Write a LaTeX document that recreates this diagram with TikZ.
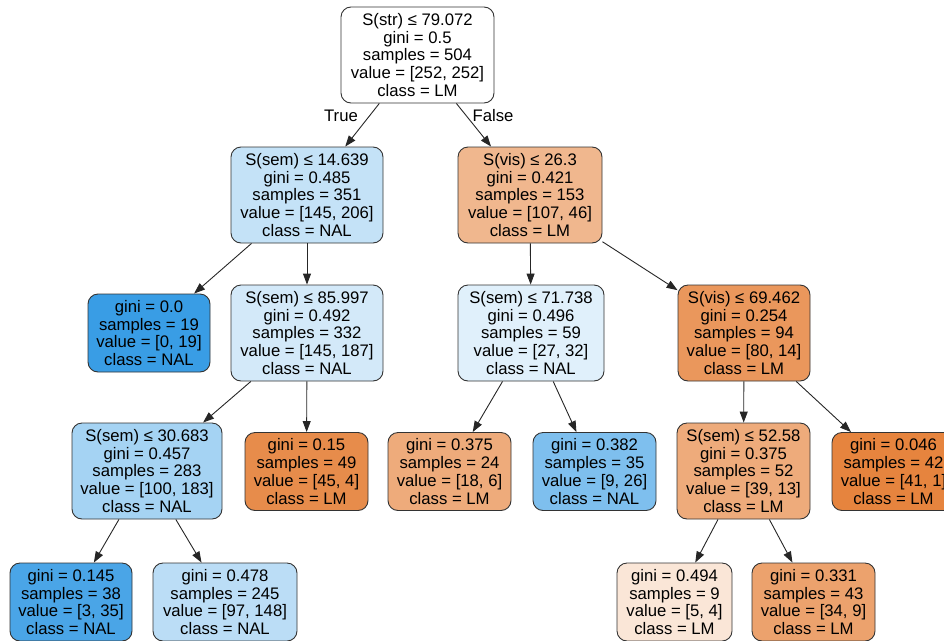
\documentclass[tikz,border=0pt]{standalone}
\usepackage{fontspec}
\setmainfont{Liberation Sans}
\usetikzlibrary{arrows.meta}
\definecolor{cRoot}{RGB}{255,255,255}
\definecolor{cA}{RGB}{196,226,247}
\definecolor{cB}{RGB}{240,183,142}
\definecolor{cL0}{RGB}{57,157,229}
\definecolor{cC}{RGB}{211,233,249}
\definecolor{cD}{RGB}{224,240,251}
\definecolor{cE}{RGB}{234,151,92}
\definecolor{cF}{RGB}{165,211,243}
\definecolor{cL15}{RGB}{231,140,75}
\definecolor{cL375}{RGB}{238,171,123}
\definecolor{cL382}{RGB}{126,191,238}
\definecolor{cG}{RGB}{238,171,123}
\definecolor{cL046}{RGB}{230,132,62}
\definecolor{cL145}{RGB}{74,165,231}
\definecolor{cL478}{RGB}{187,221,246}
\definecolor{cL494}{RGB}{250,230,215}
\definecolor{cL331}{RGB}{236,162,109}
\tikzset{
  tn/.style={draw=black!80, rounded corners=10pt, align=center,
    font=\fontsize{16.7}{17.8}\selectfont, inner sep=0pt, line width=0.9pt},
  intn/.style={tn, minimum height=96pt},
  leafn/.style={tn, minimum height=78pt},
  edge/.style={draw=black!85, line width=0.9pt, -{Triangle[length=11pt,width=8pt]}},
  elab/.style={font=\fontsize{16.7}{17.8}\selectfont, inner sep=0pt}
}
\begin{document}
\begin{tikzpicture}[x=1pt,y=-1pt]
\useasboundingbox (0,0) rectangle (944,640);
\clip (0,0) rectangle (944,640);
\node[intn, fill=cRoot, minimum width=153pt] (root) at (417.5,55) {S(str) ≤ 79.072\\gini = 0.5\\samples = 504\\value = [252, 252]\\class = LM};
\node[intn, fill=cA, minimum width=152pt] (A) at (307,195) {S(sem) ≤ 14.639\\gini = 0.485\\samples = 351\\value = [145, 206]\\class = NAL};
\node[intn, fill=cB, minimum width=144pt] (B) at (530,195) {S(vis) ≤ 26.3\\gini = 0.421\\samples = 153\\value = [107, 46]\\class = LM};
\node[leafn, fill=cL0, minimum width=122pt] (L0) at (149,333) {gini = 0.0\\samples = 19\\value = [0, 19]\\class = NAL};
\node[intn, fill=cC, minimum width=152pt] (C) at (307,333) {S(sem) ≤ 85.997\\gini = 0.492\\samples = 332\\value = [145, 187]\\class = NAL};
\node[intn, fill=cD, minimum width=146pt] (D) at (531,333) {S(sem) ≤ 71.738\\gini = 0.496\\samples = 59\\value = [27, 32]\\class = NAL};
\node[intn, fill=cE, minimum width=132pt] (E) at (744,333) {S(vis) ≤ 69.462\\gini = 0.254\\samples = 94\\value = [80, 14]\\class = LM};
\node[intn, fill=cF, minimum width=150pt] (F) at (147,471) {S(sem) ≤ 30.683\\gini = 0.457\\samples = 283\\value = [100, 183]\\class = NAL};
\node[leafn, fill=cL15, minimum width=123pt] (L15) at (306.5,471.5) {gini = 0.15\\samples = 49\\value = [45, 4]\\class = LM};
\node[leafn, fill=cL375, minimum width=123pt] (L375) at (449.5,471.5) {gini = 0.375\\samples = 24\\value = [18, 6]\\class = LM};
\node[leafn, fill=cL382, minimum width=123pt] (L382) at (594.5,471.5) {gini = 0.382\\samples = 35\\value = [9, 26]\\class = NAL};
\node[intn, fill=cG, minimum width=133pt] (G) at (743.5,471) {S(sem) ≤ 52.58\\gini = 0.375\\samples = 52\\value = [39, 13]\\class = LM};
\node[leafn, fill=cL046, minimum width=123pt] (L046) at (893.5,471.5) {gini = 0.046\\samples = 42\\value = [41, 1]\\class = LM};
\node[leafn, fill=cL145, minimum width=122pt] (L145) at (71,602) {gini = 0.145\\samples = 38\\value = [3, 35]\\class = NAL};
\node[leafn, fill=cL478, minimum width=144pt] (L478) at (225,602) {gini = 0.478\\samples = 245\\value = [97, 148]\\class = NAL};
\node[leafn, fill=cL494, minimum width=115pt] (L494) at (674.5,602) {gini = 0.494\\samples = 9\\value = [5, 4]\\class = LM};
\node[leafn, fill=cL331, minimum width=123pt] (L331) at (813.5,602) {gini = 0.331\\samples = 43\\value = [34, 9]\\class = LM};
\draw[edge] (root) -- (A);
\draw[edge] (root) -- (B);
\draw[edge] (A) -- (L0);
\draw[edge] (A) -- (C);
\draw[edge] (B) -- (D);
\draw[edge] (B) -- (E);
\draw[edge] (C) -- (F);
\draw[edge] (C) -- (L15);
\draw[edge] (D) -- (L375);
\draw[edge] (D) -- (L382);
\draw[edge] (E) -- (G);
\draw[edge] (E) -- (L046);
\draw[edge] (F) -- (L145);
\draw[edge] (F) -- (L478);
\draw[edge] (G) -- (L494);
\draw[edge] (G) -- (L331);
\node[elab] (tlab) at (341,116) {True};
\node[elab] (flab) at (493,116) {False};
\end{tikzpicture}
\end{document}
